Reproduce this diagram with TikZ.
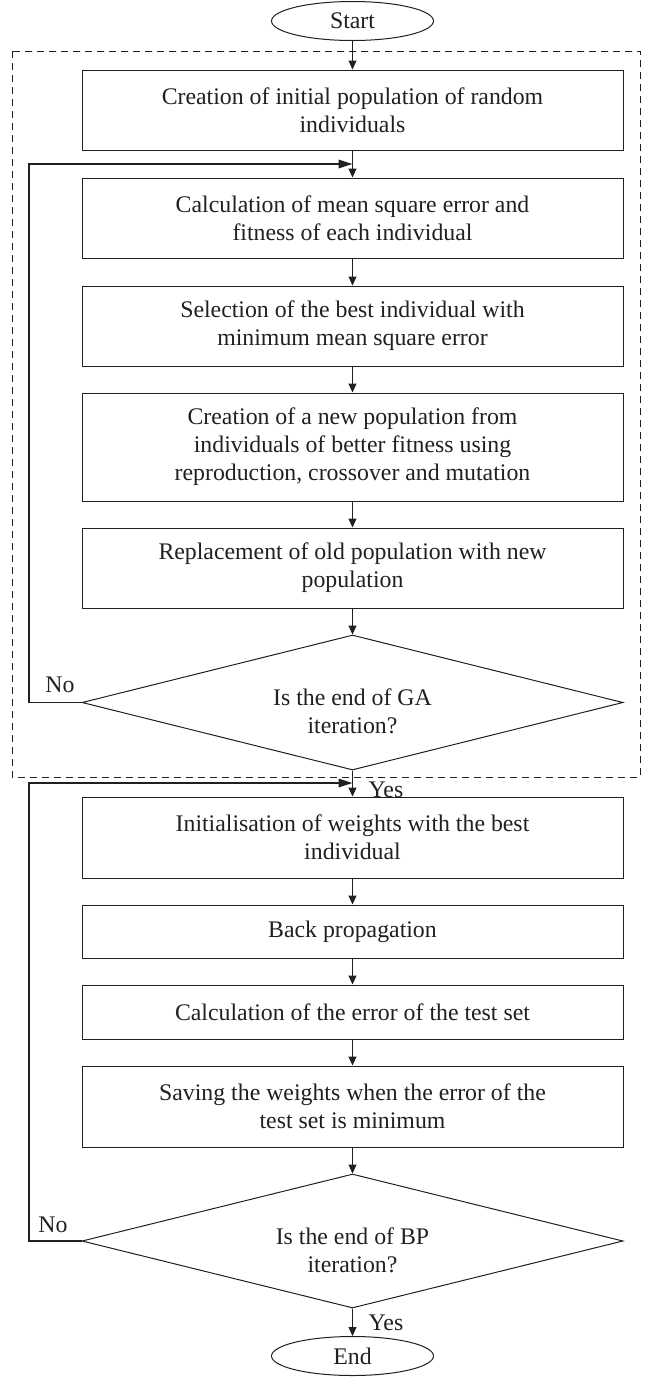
\documentclass[tikz,border=0pt]{standalone}
\usepackage{fontspec}
\setmainfont{Liberation Serif}
\usetikzlibrary{shapes.geometric,arrows.meta}
\definecolor{ink}{HTML}{231F20}
\tikzset{
  every node/.style={text=ink},
  txt/.style={font=\fontsize{23.8}{28}\selectfont, align=center, inner sep=0pt},
  stepbox/.style={draw=ink, line width=1pt, rectangle, minimum width=541pt, inner sep=0pt, font=\fontsize{23.8}{28}\selectfont, align=center},
  decbox/.style={draw=ink, line width=1pt, diamond, minimum width=541pt, minimum height=135pt, inner sep=0pt, aspect=4},
  termbox/.style={draw=ink, line width=1pt, ellipse, minimum width=162pt, minimum height=39pt, inner sep=0pt, font=\fontsize{23.8}{28}\selectfont},
  flow/.style={draw=ink, line width=1pt, -{Triangle[length=9pt,width=8pt]}},
  loopline/.style={draw=ink, line width=1.7pt, -{Triangle[length=14pt,width=8.5pt]}},
  lbl/.style={font=\fontsize{23.8}{28}\selectfont, inner sep=0pt}
}
\begin{document}
\begin{tikzpicture}[x=1pt,y=-1pt]
\useasboundingbox (0,0) rectangle (647,1377);
\draw[ink, line width=1pt, dash pattern=on 7pt off 5pt] (12,51) rectangle (640,777);

\node[termbox] (start) at (352.5,21) {Start};
\node[stepbox, minimum height=80pt] (b1) at (352.5,110) {Creation of initial population of random\\individuals};
\node[stepbox, minimum height=80pt] (b2) at (352.5,218) {Calculation of mean square error and\\fitness of each individual};
\node[stepbox, minimum height=80pt] (b3) at (352.5,326) {Selection of the best individual with\\minimum mean square error};
\node[stepbox, minimum height=108pt] (b4) at (352.5,447) {Creation of a new population from\\individuals of better fitness using\\reproduction, crossover and mutation};
\node[stepbox, minimum height=80pt] (b5) at (352.5,568) {Replacement of old population with new\\population};
\node[decbox] (d1) at (352.5,702.5) {};
\node[txt] (d1t) at (352.5,711) {Is the end of GA\\iteration?};
\node[stepbox, minimum height=81pt] (b6) at (352.5,837.5) {Initialisation of weights with the best\\individual};
\node[stepbox, minimum height=53pt] (b7) at (352.5,931.5) {Back propagation};
\node[stepbox, minimum height=54pt] (b8) at (352.5,1012) {Calculation of the error of the test set};
\node[stepbox, minimum height=81pt] (b9) at (352.5,1106.5) {Saving the weights when the error of the\\test set is minimum};
\node[decbox, minimum height=134pt] (d2) at (352.5,1241) {};
\node[txt] (d2t) at (352.5,1250) {Is the end of BP\\iteration?};
\node[termbox] (end) at (352.5,1356) {End};

\node[lbl] (no1) at (60,685) {No};
\node[lbl] (no2) at (53,1225) {No};
\node[lbl] (yes1) at (386,790) {Yes};
\node[lbl] (yes2) at (386,1323) {Yes};

\coordinate (l1) at (29,164);
\coordinate (j1) at (352.5,164);
\coordinate (l2) at (29,783);
\coordinate (j2) at (352.5,783);

\draw[flow] (start) -- (b1);
\draw[flow] (b1) -- (b2);
\draw[flow] (b2) -- (b3);
\draw[flow] (b3) -- (b4);
\draw[flow] (b4) -- (b5);
\draw[flow] (b5) -- (d1);
\draw[flow] (d1) -- (b6);
\draw[flow] (b6) -- (b7);
\draw[flow] (b7) -- (b8);
\draw[flow] (b8) -- (b9);
\draw[flow] (b9) -- (d2);
\draw[flow] (d2) -- (end);

\draw[loopline] (d1.west) -| (l1) -- (j1);
\draw[loopline] (d2.west) -| (l2) -- (j2);
\end{tikzpicture}
\end{document}
